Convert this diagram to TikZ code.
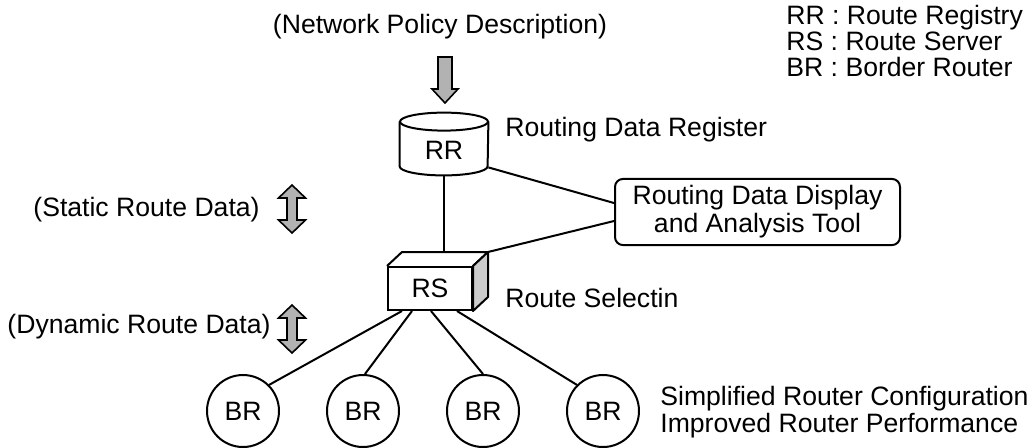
\documentclass[tikz,border=0pt]{standalone}
\usepackage{fontspec}
\setmainfont{Liberation Sans}
\usepackage{tikz}
\usetikzlibrary{calc,positioning,shapes.geometric}

\tikzset{
  link/.style={line width=1pt},
  txt/.style={inner sep=0pt},
  brnode/.style={draw, circle, line width=1pt, minimum size=36pt, inner sep=0pt},
  grayarrow/.style={draw, fill=gray!60, line width=0.8pt, line join=miter},
  toolbox/.style={draw, line width=1pt, rounded corners=4pt, align=center,
    minimum width=142.5pt, minimum height=32pt}
}

\begin{document}
\begin{tikzpicture}[x=0.5pt, y=-0.5pt, font=\fontsize{13.3}{13}\selectfont]
  \fill[white] (0,0) rectangle (1035,447);
  \useasboundingbox (0,0) rectangle (1035,447);

  % legend
  \node[txt, anchor=west, align=left] (legend) at (786,41)
    {RR : Route Registry\\RS : Route Server\\BR : Border Router};

  % policy input
  \node[txt] (policy) at (440,27) {(Network Policy Description)};
  \draw[grayarrow] (438,57) -- ++(14,0) -- ++(0,32) -- ++(6,0) -- ++(-13,14)
    -- ++(-13,-14) -- ++(6,0) -- cycle;

  % route registry (cylinder)
  \node[minimum width=44pt, minimum height=31pt, inner sep=0pt] (rr) at (444,144) {};
  \draw[link, fill=white] ($(rr.north west)+(0,9)$) -- ($(rr.south west)+(0,-9)$)
    arc[start angle=180, end angle=0, x radius=44, y radius=9]
    -- ($(rr.north east)+(0,9)$);
  \draw[link] ($(rr.north)+(0,9)$) ellipse [x radius=44, y radius=9];
  \node[txt] at ($(rr.center)+(0,6)$) {RR};
  \node[txt, anchor=west] (rrlabel) at (505,130) {Routing Data Register};

  % analysis tool
  \node[toolbox, font=\fontsize{13.3}{14}\selectfont] (tool) at (757.5,212)
    {Routing Data Display\\and Analysis Tool};

  % route server (box)
  \node[draw, link, minimum width=42pt, minimum height=21.5pt, inner sep=0pt] (rs) at (430,288.5) {RS};
  \coordinate (rsbl) at ($(rs.north west)+(15,-14)$);
  \coordinate (rsbr) at ($(rs.north east)+(15,-14)$);
  \draw[link, line join=round] (rs.north west) -- (rsbl) -- (rsbr) -- (rs.north east);
  \draw[link, fill=gray!40, line join=round] (rs.north east) -- (rsbr)
    -- ($(rs.south east)+(15,-14)$) -- (rs.south east) -- cycle;
  \node[txt, anchor=west] (rslabel) at (505,298) {Route Selectin};

  % connections
  \draw[link] (rr.south) -- (rr.south |- rsbl);
  \draw[link] ($(rr.south east)+(0,-8)$) -- ($(tool.west)+(0,-9)$);
  \draw[link] (rsbr) -- ($(tool.west)+(0,9)$);

  % data flows
  \node[txt, anchor=east] (static) at (260,210) {(Static Route Data)};
  \node[txt, anchor=east] (dynamic) at (271,327) {(Dynamic Route Data)};
  \foreach \y in {185,305}
    \draw[grayarrow] (292,\y) -- ++(13.5,13) -- ++(-8.5,0) -- ++(0,22) -- ++(8.5,0)
      -- ++(-13.5,13) -- ++(-13.5,-13) -- ++(8.5,0) -- ++(0,-22) -- ++(-8.5,0) -- cycle;

  % border routers
  \foreach \x [count=\i] in {243,363,483,603}
    \node[brnode] (br\i) at (\x,411) {BR};
  \foreach \dx/\i/\a in {15/1/45, 25/2/87, 44/3/90, 70/4/135}
    \draw[link] ($(rs.south west)+(\dx,0)$) -- (br\i.\a);

  \node[txt, anchor=west, align=left, font=\fontsize{13.3}{12}\selectfont] (result) at (660,412)
    {Simplified Router Configuration\\Improved Router Performance};
\end{tikzpicture}
\end{document}
